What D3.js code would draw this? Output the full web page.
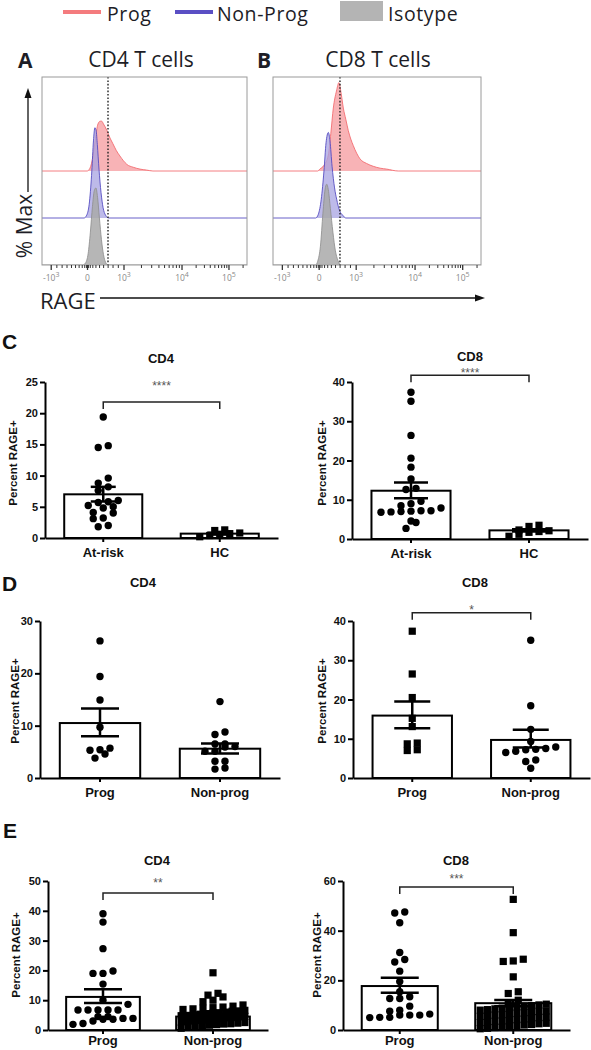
<!DOCTYPE html>
<html><head><meta charset="utf-8">
<script src="https://cdn.jsdelivr.net/npm/d3@7"></script>
<style>body{margin:0;background:#fff}svg{display:block}</style>
</head><body><svg id="c" width="591" height="1050"></svg>
<script>
// ================= DATA =================
const legendLabels = ["Prog", "Non-Prog", "Isotype"];
const histTitles = ["CD4 T cells", "CD8 T cells"];
const histLetters = ["A", "B"];
const histTickChannels = [45, 222, 400, 683, 912];
const histTickBase = ["-10", "0", "10", "10", "10"];
const histTickExp = ["3", "", "3", "4", "5"];
const gateChannel = 322;
const laneOffsets = [100, 50, 0]; // Prog, Non-Prog, Isotype (in % Max units)
// histogram curves: [channel, % of max]
const cd4Prog = [[0,0],[220,0],[234,3],[248,15],[259,32],[273,50],[284,53],[291,53],[300,50],[317,43],[332,35],[346,29],[362,22],[380,16],[397,11],[414,7],[445,4],[478,2],[510,1],[541,0],[1000,0]];
const cd4NonProg = [[0,0],[205,0],[218,3],[232,18],[243,50],[251,82],[258,96],[264,93],[270,78],[278,52],[288,27],[298,11],[310,3],[325,0],[1000,0]];
const cd4Isotype = [[0,0],[200,0],[212,2],[225,12],[236,35],[246,62],[255,79],[263,82],[271,72],[280,50],[290,27],[300,11],[310,3],[322,0],[1000,0]];
const cd8Prog = [[0,0],[215,0],[225,2],[245,6],[266,17],[278,40],[290,67],[305,85],[317,94],[328,82],[338,67],[350,55],[362,43],[374,34],[386,27],[402,19],[418,13],[450,8],[482,5],[515,3],[547,2],[602,0],[1000,0]];
const cd8NonProg = [[0,0],[205,0],[218,4],[232,20],[245,50],[255,80],[266,91],[274,82],[284,55],[296,32],[306,20],[320,8],[335,3],[350,0],[1000,0]];
const cd8Isotype = [[0,0],[205,0],[215,4],[228,20],[240,55],[250,80],[258,86],[266,80],[276,60],[288,35],[300,15],[312,5],[325,0],[1000,0]];

const riskCats = ["At-risk", "HC"];
const progCats = ["Prog", "Non-prog"];
const yTitle = "Percent RAGE+";

// Panel C
const cCd4AtRisk = [19.4, 14.8, 14.5, 9.6, 8.8, 8.2, 7.6, 6.0, 5.8, 5.7, 5.2, 5.0, 4.8, 4.1, 4.0, 3.2, 3.1, 2.0, 1.8];
const cCd4HC = [1.3, 1.2, 0.8, 0.7, 0.6, 0.4, 0.2];
const cCd4Mean = [7.0, 0.7];
const cCd4Err = [[5.85, 8.2], [0.55, 0.85]];
const cCd8AtRisk = [37.4, 35.1, 26.4, 20.6, 18.3, 15.3, 12.9, 12.6, 9.6, 9.0, 8.5, 7.9, 7.2, 7.1, 7.0, 6.9, 6.8, 7.2, 4.6, 4.2, 2.7];
const cCd8HC = [3.5, 3.2, 2.3, 2.1, 1.9, 1.7, 1.2, 0.7];
const cCd8Mean = [12.3, 2.2];
const cCd8Err = [[10.4, 14.4], [1.9, 2.5]];
// Panel D
const dCd4Prog = [26.2, 19.4, 14.9, 9.7, 5.7, 5.4, 5.3, 4.6, 3.8];
const dCd4NonProg = [14.6, 8.8, 8.3, 6.5, 6.5, 6.0, 5.9, 5.1, 5.1, 3.2, 3.2, 1.9, 1.7];
const dCd4Mean = [10.5, 5.6];
const dCd4Err = [[8.0, 13.3], [4.7, 6.6]];
const dCd8Prog = [37.4, 26.5, 20.5, 15.2, 13.1, 8.9, 8.7, 7.2, 7.0];
const dCd8NonProg = [35.1, 18.4, 12.4, 9.3, 7.9, 7.5, 7.3, 7.2, 6.8, 6.5, 4.6, 4.2, 2.5];
const dCd8Mean = [15.9, 9.7];
const dCd8Err = [[12.7, 19.5], [7.8, 12.3]];
// Panel E
const eCd4Prog = [39.0, 36.2, 27.3, 19.8, 19.0, 19.0, 15.4, 10.0, 8.6, 6.7, 6.7, 6.7, 6.7, 6.7, 4.5, 4.5, 3.9, 3.9, 3.6, 3.6, 3.0, 2.2, 1.9];
const eCd4NonProg = [19.2, 12.3, 11.7, 11.1, 10.0, 9.5, 8.4, 8.0, 7.7, 7.5, 7.3, 7.1, 6.9, 6.6, 6.4, 6.3, 6.0, 5.8, 5.7, 5.5, 5.3, 5.1, 4.9, 4.8, 4.6, 4.4, 4.2, 4.1, 3.9, 3.7, 3.5, 3.4, 3.2, 3.0, 2.9, 2.7, 2.5, 2.3, 2.1, 2.0, 1.8, 1.6, 1.4, 1.1, 0.9, 0.6];
const eCd4Mean = [11.1, 4.5];
const eCd4Err = [[9.1, 13.7], [3.9, 5.2]];
const eCd8Prog = [47.5, 47.1, 43.2, 31.2, 28.4, 27.4, 23.7, 19.5, 15.4, 13.4, 12.7, 12.7, 9.6, 8.0, 7.6, 6.4, 6.0, 6.0, 6.0, 5.1, 5.1, 5.0];
const eCd8NonProg = [52.6, 39.2, 28.5, 27.8, 27.6, 21.4, 15.4, 14.7, 12.0, 10.6, 10.4, 10.1, 9.8, 9.6, 9.3, 9.0, 8.8, 8.5, 8.2, 8.0, 7.7, 7.5, 7.2, 7.0, 6.8, 6.5, 6.2, 6.0, 5.8, 5.5, 5.2, 5.0, 4.8, 4.5, 4.2, 4.0, 3.7, 3.5, 3.2, 3.0, 2.7, 2.5, 2.2, 2.0, 1.7, 1.5, 1.2, 1.0, 0.7, 0.5];
const eCd8Mean = [17.7, 10.8];
const eCd8Err = [[15.0, 21.0], [9.6, 12.1]];

// ================= DRAWING =================
const svg = d3.select("#c");
const SANS = "'Open Sans', 'Noto Sans', sans-serif";
const ARIAL = "'Liberation Sans', Arial, sans-serif";
const TXT = "#1d1d26";

// ---- legend ----
const legendX = [63, 175, 340];
const legendTextX = [107, 217, 388];
const legendColor = ["#f47b7e", "#5a4fc4", "#b4b4b4"];
legendLabels.forEach((lab, i) => {
  if (i < 2) {
    svg.append("line").attr("x1", legendX[i]).attr("x2", legendX[i] + 38).attr("y1", 12).attr("y2", 12)
      .attr("stroke", legendColor[i]).attr("stroke-width", 4);
  } else {
    svg.append("rect").attr("x", legendX[i]).attr("y", 1).attr("width", 43).attr("height", 20).attr("fill", legendColor[i]);
  }
  svg.append("text").attr("x", legendTextX[i]).attr("y", 21).text(lab)
    .attr("font-family", SANS).attr("font-size", 19.5).attr("letter-spacing", 0.6).attr("fill", TXT);
});

// ---- histograms ----
const histSeries = [[cd4Prog, cd4NonProg, cd4Isotype], [cd8Prog, cd8NonProg, cd8Isotype]];
const histFill = ["#f59a9d", "#a7a3e2", "#a9a9a9"];
const histFillOp = [0.75, 0.75, 0.85];
const histStroke = ["#f2676c", "#4f45bf", "#8f8f8f"];
const histBoxes = [{x0: 42, x1: 247, yt: 77, yb: 265}, {x0: 273, x1: 481, yt: 77, yb: 265}];
const histTitleX = [141, 378];
const histLetterX = [18, 257];

histBoxes.forEach((b, k) => {
  const g = svg.append("g");
  const x = d3.scaleLinear().domain([0, 1000]).range([b.x0, b.x1]);
  const y = d3.scaleLinear().domain([0, 200]).range([b.yb, b.yt]);
  const cid = "hclip" + k;
  g.append("clipPath").attr("id", cid).append("rect")
    .attr("x", b.x0).attr("y", b.yt).attr("width", b.x1 - b.x0).attr("height", b.yb - b.yt);
  const pg = g.append("g").attr("clip-path", `url(#${cid})`);
  histSeries[k].forEach((s, i) => {
    const off = laneOffsets[i];
    const area = d3.area().x(d => x(d[0])).y0(y(off)).y1(d => y(off + d[1])).curve(d3.curveMonotoneX);
    const line = d3.line().x(d => x(d[0])).y(d => y(off + d[1])).curve(d3.curveMonotoneX);
    pg.append("path").attr("d", area(s)).attr("fill", histFill[i]).attr("fill-opacity", histFillOp[i]);
    pg.append("path").attr("d", line(s)).attr("fill", "none").attr("stroke", histStroke[i])
      .attr("stroke-width", 1).attr("stroke-opacity", 0.85);
  });
  pg.append("line").attr("x1", x(gateChannel)).attr("x2", x(gateChannel)).attr("y1", b.yt).attr("y2", b.yb)
    .attr("stroke", "#222").attr("stroke-width", 1.4).attr("stroke-dasharray", "1.6,1.8");
  g.append("rect").attr("x", b.x0).attr("y", b.yt).attr("width", b.x1 - b.x0).attr("height", b.yb - b.yt)
    .attr("fill", "none").attr("stroke", "#9a9a9a").attr("stroke-width", 1);
  // minor ticks (axis decoration)
  const minor = [];
  const t = histTickChannels;
  for (let j = 1; j <= 9; j++) {
    const f = Math.pow(j / 10, 1.6);
    minor.push(t[1] + (t[2] - t[1]) * f, t[1] - (t[1] - t[0]) * f);
  }
  for (let d = 2; d < 4; d++) for (let j = 2; j <= 9; j++) minor.push(t[d] + (t[d + 1] - t[d]) * Math.log10(j));
  minor.push(t[4] + (t[4] - t[3]) * Math.log10(2), t[4] + (t[4] - t[3]) * Math.log10(3));
  minor.filter(v => v > 2 && v < 998).forEach(v => {
    g.append("line").attr("x1", x(v)).attr("x2", x(v)).attr("y1", b.yb).attr("y2", b.yb + 3)
      .attr("stroke", "#333").attr("stroke-width", 1);
  });
  t.forEach((v, j) => {
    g.append("line").attr("x1", x(v)).attr("x2", x(v)).attr("y1", b.yb).attr("y2", b.yb + 5)
      .attr("stroke", "#333").attr("stroke-width", 1.3);
    const tx = g.append("text").attr("x", x(v)).attr("y", b.yb + 16).attr("text-anchor", "middle")
      .attr("font-family", SANS).attr("font-size", 8.5).attr("fill", "#8a8a8a");
    tx.append("tspan").text(histTickBase[j]);
    if (histTickExp[j]) tx.append("tspan").attr("dy", -4).attr("font-size", 7).text(histTickExp[j]);
  });
  svg.append("text").attr("x", histTitleX[k]).attr("y", 67).attr("text-anchor", "middle").text(histTitles[k])
    .attr("font-family", SANS).attr("font-size", 21).attr("fill", TXT);
  svg.append("text").attr("x", histLetterX[k]).attr("y", 68).text(histLetters[k])
    .attr("font-family", SANS).attr("font-weight", "bold").attr("font-size", 21).attr("fill", TXT);
});
// % Max label + arrow
svg.append("text").attr("transform", "translate(32,226) rotate(-90)").attr("text-anchor", "middle")
  .text("% Max").attr("font-family", SANS).attr("font-size", 21).attr("fill", TXT);
svg.append("line").attr("x1", 28).attr("x2", 28).attr("y1", 192).attr("y2", 97).attr("stroke", "#111").attr("stroke-width", 1.3);
svg.append("path").attr("d", "M28,88 L24.5,98 L31.5,98 Z").attr("fill", "#111");
// RAGE label + arrow
svg.append("text").attr("x", 40).attr("y", 309).text("RAGE")
  .attr("font-family", SANS).attr("font-size", 22).attr("fill", TXT);
svg.append("line").attr("x1", 100).attr("x2", 476).attr("y1", 298).attr("y2", 298).attr("stroke", "#111").attr("stroke-width", 1.3);
svg.append("path").attr("d", "M485,298 L475,294.5 L475,301.5 Z").attr("fill", "#111");

// ---- Prism-like scatter layout: points binned in rows, spread horizontally ----
function rowLayout(values, y, binH, sp, maxW) {
  const pts = values.map(v => ({v, y: y(v), x: 0}));
  const order = pts.slice().sort((a, b) => a.v - b.v);
  const bins = [];
  let cur = null;
  order.forEach(p => {
    if (!cur || Math.abs(p.y - cur.y0) >= binH) { cur = {y0: p.y, items: []}; bins.push(cur); }
    cur.items.push(p);
  });
  bins.forEach(b => {
    const n = b.items.length;
    const s = n > 1 ? Math.min(sp, maxW / (n - 1)) : 0;
    b.items.forEach((p, j) => { p.x = (j - (n - 1) / 2) * s; });
  });
  return pts;
}

// ---- bar panels ----
const panels = [
  {x0: 45, x1: 278, y0: 538, y1: 382, max: 25, step: 5, cats: riskCats, groups: [cCd4AtRisk, cCd4HC], shapes: ["c", "s"],
   mean: cCd4Mean, err: cCd4Err, cap: 12.5, title: "CD4", tx: 161, ty: 363, sig: "****", sigV: 21.8, starCy: 383,
   ylx: 13, yly: 463, pad: 6},
  {x0: 352, x1: 588, y0: 539, y1: 382, max: 40, step: 10, cats: riskCats, groups: [cCd8AtRisk, cCd8HC], shapes: ["c", "s"],
   mean: cCd8Mean, err: cCd8Err, cap: 17, title: "CD8", tx: 470, ty: 361, sig: "****", sigV: 41.7, starCy: 370,
   ylx: 322, yly: 463, pad: 6},
  {x0: 40, x1: 280, y0: 778, y1: 621, max: 30, step: 10, cats: progCats, groups: [dCd4Prog, dCd4NonProg], shapes: ["c", "c"],
   mean: dCd4Mean, err: dCd4Err, cap: 19, title: "CD4", tx: 143, ty: 587, sig: null,
   ylx: 15, yly: 701, pad: 6},
  {x0: 353, x1: 590, y0: 778, y1: 621, max: 40, step: 10, cats: progCats, groups: [dCd8Prog, dCd8NonProg], shapes: ["s", "c"],
   mean: dCd8Mean, err: dCd8Err, cap: 18, title: "CD8", tx: 475, ty: 587, sig: "*", sigV: 42.1, starCy: 607,
   ylx: 322, yly: 701, pad: 6},
  {x0: 48, x1: 268, y0: 1030, y1: 881, max: 50, step: 10, cats: progCats, groups: [eCd4Prog, eCd4NonProg], shapes: ["c", "s"],
   mean: eCd4Mean, err: eCd4Err, cap: 19, title: "CD4", tx: 157, ty: 865, sig: "**", sigV: 46, starCy: 880,
   ylx: 16, yly: 955, pad: 2},
  {x0: 343, x1: 570, y0: 1030, y1: 881, max: 60, step: 20, cats: progCats, groups: [eCd8Prog, eCd8NonProg], shapes: ["c", "s"],
   mean: eCd8Mean, err: eCd8Err, cap: 19, title: "CD8", tx: 456, ty: 865, sig: "***", sigV: 57.6, starCy: 876,
   ylx: 317, yly: 955, pad: 2}
];

panels.forEach(p => {
  const g = svg.append("g");
  const x = d3.scaleBand().domain(p.cats).range([p.x0, p.x1]).paddingInner(0.33).paddingOuter(0.165);
  const y = d3.scaleLinear().domain([0, p.max]).range([p.y0, p.y1]);
  const bw = x.bandwidth();
  // bars
  p.cats.forEach((c, i) => {
    g.append("rect").attr("x", x(c)).attr("y", y(p.mean[i])).attr("width", bw).attr("height", y(0) - y(p.mean[i]))
      .attr("fill", "#fff").attr("stroke", "#000").attr("stroke-width", 2);
  });
  // points
  p.cats.forEach((c, i) => {
    const cx = x(c) + bw / 2;
    const shp = p.shapes[i];
    const pts = rowLayout(p.groups[i], y, 6, 10, bw - 10);
    pts.forEach(d => {
      if (shp === "c") g.append("circle").attr("cx", cx + d.x).attr("cy", d.y).attr("r", 3.7).attr("fill", "#000");
      else g.append("rect").attr("x", cx + d.x - 3.6).attr("y", d.y - 3.6).attr("width", 7.2).attr("height", 7.2).attr("fill", "#000");
    });
  });
  // error bars
  p.cats.forEach((c, i) => {
    const cx = x(c) + bw / 2;
    const [lo, hi] = p.err[i];
    g.append("line").attr("x1", cx).attr("x2", cx).attr("y1", y(lo)).attr("y2", y(hi)).attr("stroke", "#000").attr("stroke-width", 2.5);
    [lo, hi].forEach(v => g.append("line").attr("x1", cx - p.cap).attr("x2", cx + p.cap).attr("y1", y(v)).attr("y2", y(v))
      .attr("stroke", "#000").attr("stroke-width", 2.5));
  });
  // axes
  const ya = g.append("g").attr("transform", `translate(${p.x0},0)`)
    .call(d3.axisLeft(y).tickValues(d3.range(0, p.max + 0.001, p.step)).tickSize(5).tickSizeOuter(0).tickPadding(2));
  const xa = g.append("g").attr("transform", `translate(0,${p.y0})`)
    .call(d3.axisBottom(x).tickSize(4).tickSizeOuter(0).tickPadding(p.pad));
  [ya, xa].forEach(a => {
    a.attr("font-family", ARIAL).attr("font-weight", "bold");
    a.select(".domain").attr("stroke", "#000").attr("stroke-width", 2);
    a.selectAll(".tick line").attr("stroke", "#000").attr("stroke-width", 2);
    a.selectAll("text").attr("fill", "#111");
  });
  ya.attr("font-size", 11);
  xa.attr("font-size", 13);
  // title
  svg.append("text").attr("x", p.tx).attr("y", p.ty).attr("text-anchor", "middle").text(p.title)
    .attr("font-family", ARIAL).attr("font-weight", "bold").attr("font-size", 13).attr("fill", "#111");
  // y title
  svg.append("text").attr("transform", `translate(${p.ylx},${p.yly}) rotate(-90)`).attr("text-anchor", "middle")
    .attr("dy", "0.36em").text(yTitle)
    .attr("font-family", ARIAL).attr("font-weight", "bold").attr("font-size", 11.5).attr("fill", "#111");
  // significance
  if (p.sig) {
    const xa0 = x(p.cats[0]) + bw / 2, xb0 = x(p.cats[1]) + bw / 2, yy = y(p.sigV);
    g.append("path").attr("d", `M${xa0},${yy + 7} V${yy} H${xb0} V${yy + 7}`)
      .attr("fill", "none").attr("stroke", "#222").attr("stroke-width", 1.5);
    svg.append("text").attr("x", (xa0 + xb0) / 2).attr("y", p.starCy + 7).attr("text-anchor", "middle").text(p.sig)
      .attr("font-family", ARIAL).attr("font-size", 12).attr("fill", "#555");
  }
});
// panel letters
[["C", 2, 349], ["D", 2, 591], ["E", 3, 838]].forEach(([t, lx, ly]) => {
  svg.append("text").attr("x", lx).attr("y", ly).text(t)
    .attr("font-family", ARIAL).attr("font-weight", "bold").attr("font-size", 21).attr("fill", "#111");
});
</script>
</body></html>
